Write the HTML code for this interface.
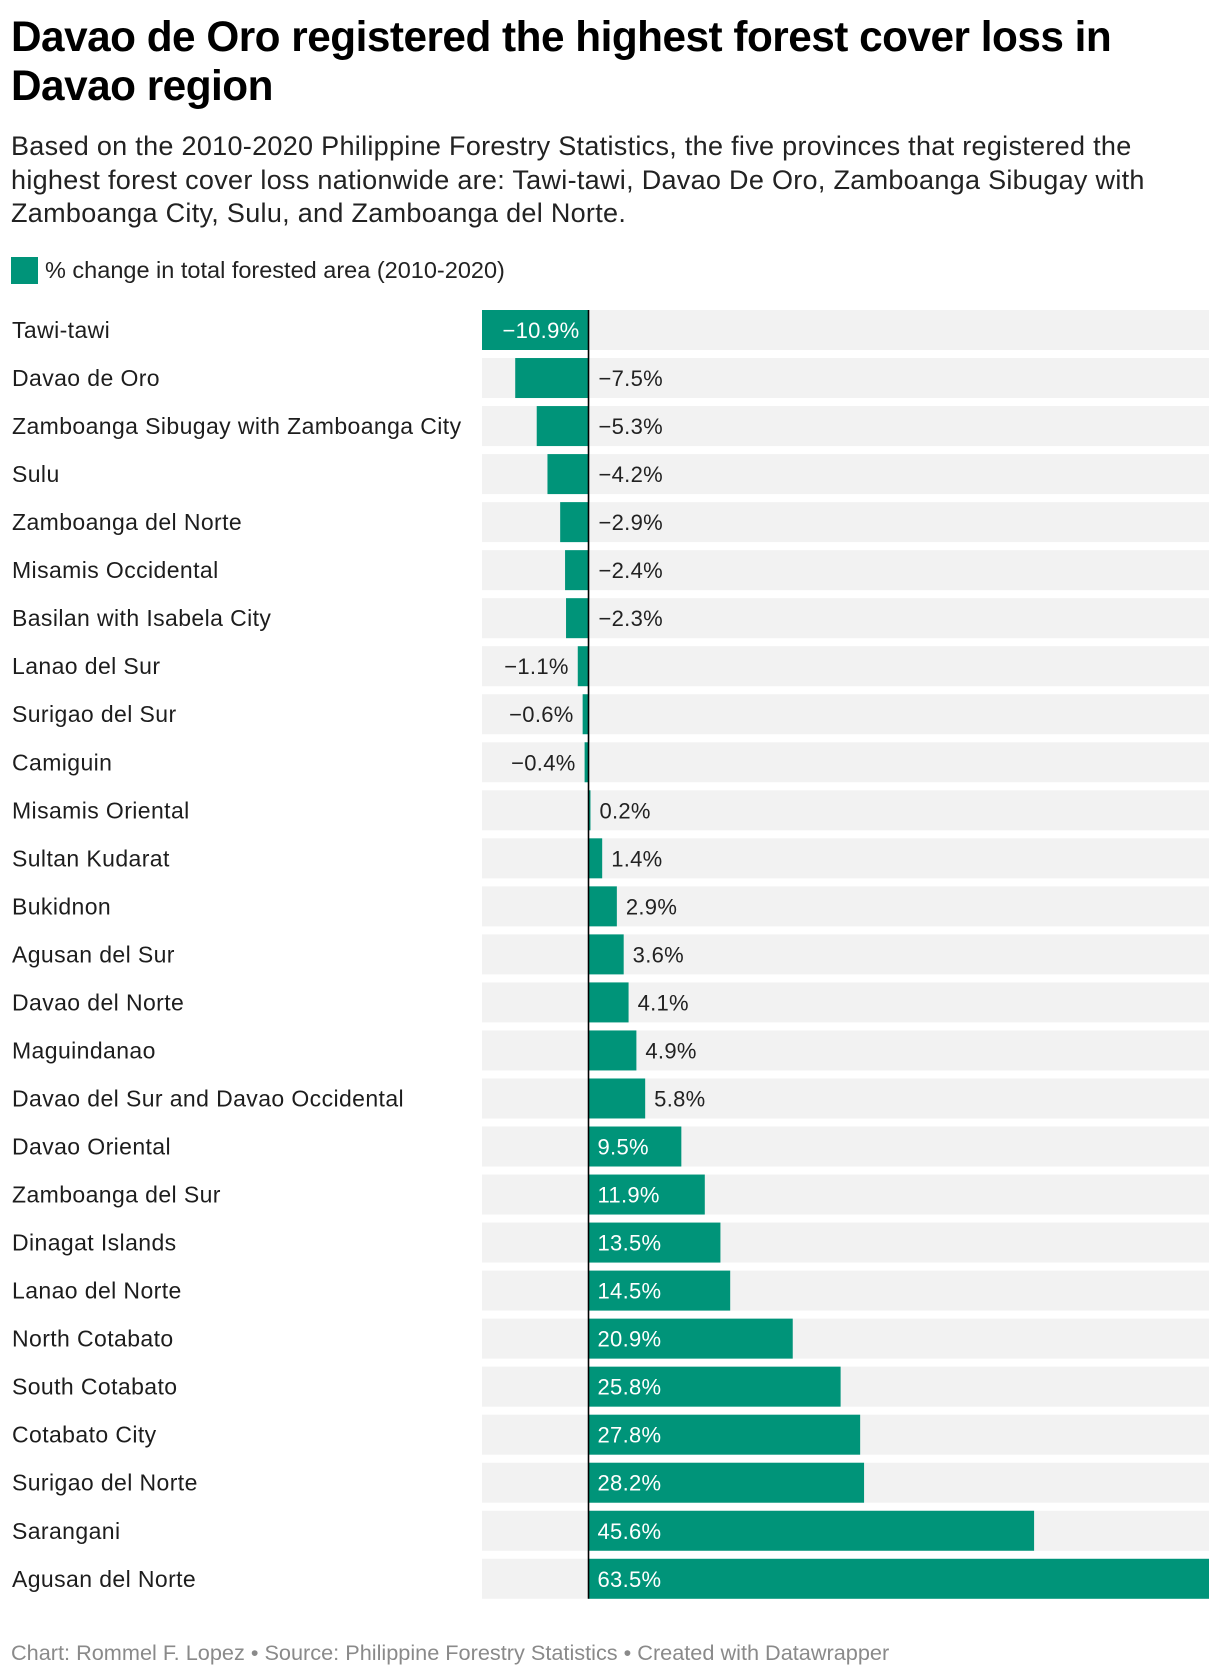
<!DOCTYPE html>
<html><head><meta charset="utf-8">
<style>
html,body{margin:0;padding:0;background:#fff;}
body{width:1220px;height:1676px;position:relative;overflow:hidden;font-family:"Liberation Sans",sans-serif;color:#1d1d1d;}
#title{position:absolute;left:11px;top:12px;font-size:42.3px;font-weight:bold;line-height:49px;margin:0;white-space:nowrap;letter-spacing:-0.5px;color:#000;}
#sub{position:absolute;left:11px;top:130px;font-size:27px;line-height:33.5px;white-space:nowrap;color:#222;letter-spacing:0.3px;}
#legend{position:absolute;left:11px;top:257px;height:27px;display:flex;align-items:center;font-size:23.5px;color:#222;white-space:nowrap;}
#legend .sw{width:27px;height:27px;background:#009479;margin-right:7px;}
#foot{position:absolute;left:11px;top:1640px;font-size:21.7px;color:#8a8a8a;white-space:nowrap;}
</style></head><body>
<h1 id="title">Davao de Oro registered the highest forest cover loss in<br>Davao region</h1>
<div id="sub">Based on the 2010-2020 Philippine Forestry Statistics, the five provinces that registered the<br>highest forest cover loss nationwide are: Tawi-tawi, Davao De Oro, Zamboanga Sibugay with<br>Zamboanga City, Sulu, and Zamboanga del Norte.</div>
<div id="legend"><div class="sw"></div><span>% change in total forested area (2010-2020)</span></div>
<svg id="chart" width="1220" height="1620" style="position:absolute;left:0;top:0"></svg>
<div id="foot">Chart: Rommel F. Lopez • Source: Philippine Forestry Statistics • Created with Datawrapper</div>
<script>
const categories = ["Tawi-tawi","Davao de Oro","Zamboanga Sibugay with Zamboanga City","Sulu","Zamboanga del Norte","Misamis Occidental","Basilan with Isabela City","Lanao del Sur","Surigao del Sur","Camiguin","Misamis Oriental","Sultan Kudarat","Bukidnon","Agusan del Sur","Davao del Norte","Maguindanao","Davao del Sur and Davao Occidental","Davao Oriental","Zamboanga del Sur","Dinagat Islands","Lanao del Norte","North Cotabato","South Cotabato","Cotabato City","Surigao del Norte","Sarangani","Agusan del Norte"];
const values = [-10.9,-7.5,-5.3,-4.2,-2.9,-2.4,-2.3,-1.1,-0.6,-0.4,0.2,1.4,2.9,3.6,4.1,4.9,5.8,9.5,11.9,13.5,14.5,20.9,25.8,27.8,28.2,45.6,63.5];
const labels = values.map(v => (v<0?"\u2212":"") + Math.abs(v).toFixed(1) + "%");

const NS="http://www.w3.org/2000/svg";
const svg=document.getElementById('chart');
const xMin=Math.min(0,...values), xMax=Math.max(0,...values);
const left=482, right=1209;
function x(v){return left+(v-xMin)/(xMax-xMin)*(right-left);}
function y(i){return 310+i*48.03;}
const bh=40;
function mk(t,a){const e=document.createElementNS(NS,t);for(const k in a)e.setAttribute(k,a[k]);svg.appendChild(e);return e;}
const x0=x(0);
categories.forEach((c,i)=>{
  const yy=y(i);
  const bg=mk('rect',{x:left,y:yy,width:right-left,height:bh,fill:'#f2f2f2'});
  
  
  const lab=mk('text',{x:12,y:yy+bh/2+8,'font-size':23,'letter-spacing':0.4,fill:'#1d1d1d'});
  lab.textContent=c;
  
  
});
values.forEach((v,i)=>{
  const yy=y(i);
  const xa=Math.min(x(v),x0), xb=Math.max(x(v),x0);
  const b=mk('rect',{x:xa,y:yy,width:xb-xa,height:bh,fill:'#009479'});
  
  
  const w=xb-xa;
  let tx,anchor='start',fill='#222';
  if(v>=0){ if(w>75){tx=x0+9;fill='#fff';} else {tx=xb+9;} }
  else { if(w>90){tx=x0-9;anchor='end';fill='#fff';} else if(w>15){tx=x0+10;} else {tx=xa-9;anchor='end';} }
  const t=mk('text',{x:tx,y:yy+bh/2+8,'font-size':22,'letter-spacing':0.3,fill:fill,'text-anchor':anchor});
  t.textContent=labels[i];
  
  
});
const zl=mk('line',{x1:x0,x2:x0,y1:y(0),y2:y(values.length-1)+bh,stroke:'#000','stroke-width':1.6});


</script>
</body></html>
